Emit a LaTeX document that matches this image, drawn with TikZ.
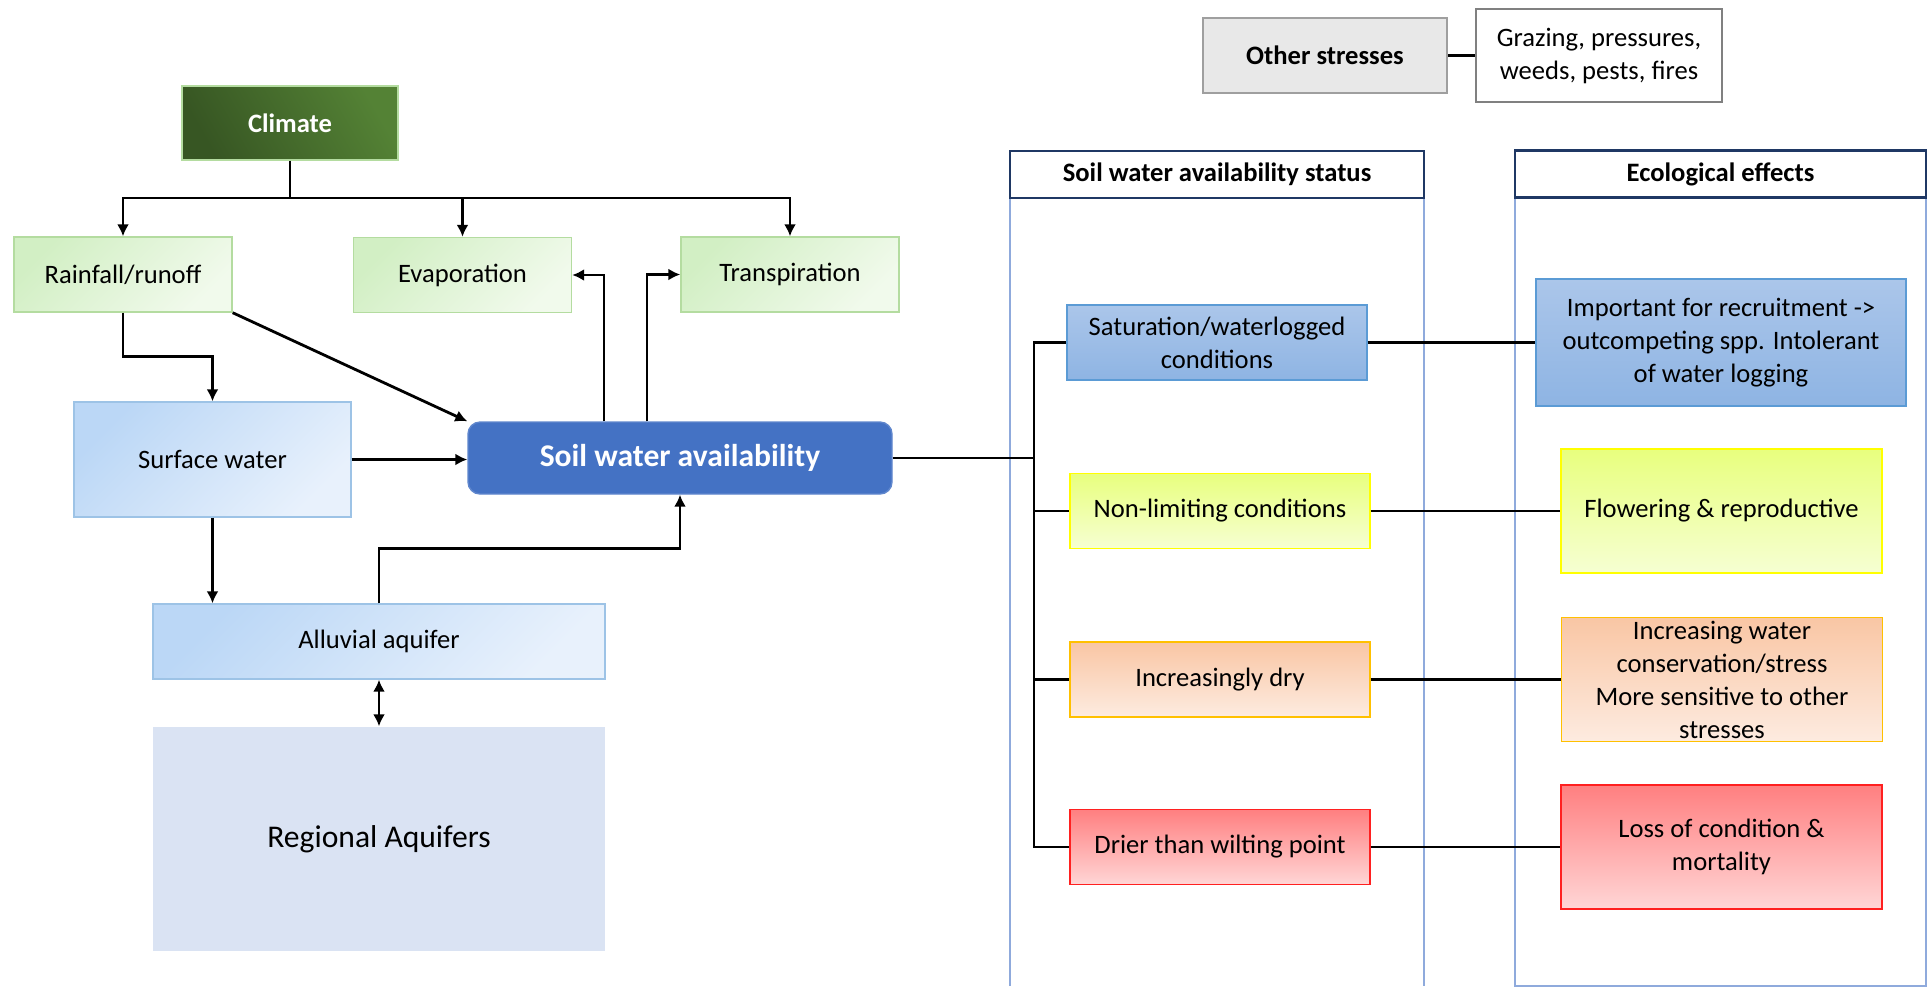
\documentclass[tikz,border=0pt]{standalone}
\usepackage{fontspec}
\setmainfont{Carlito}
\usepackage{xcolor}
\usepackage{tikz}
\usetikzlibrary{shapes,arrows.meta,positioning,fit,calc}

\definecolor{climdark}{HTML}{375623}
\definecolor{climlight}{HTML}{548235}
\definecolor{grnline}{HTML}{B4DCA0}
\definecolor{grntop}{HTML}{D2EFC4}
\definecolor{grnbot}{HTML}{F1FAEC}
\definecolor{bluline}{HTML}{9DC3E6}
\definecolor{blutop}{HTML}{BBD7F6}
\definecolor{blubot}{HTML}{E8F1FC}
\definecolor{soilblue}{HTML}{4472C4}
\definecolor{regfill}{HTML}{DAE3F3}
\definecolor{navy}{HTML}{1F3864}
\definecolor{colline}{HTML}{8FAADC}
\definecolor{wettop}{HTML}{ABC6EA}
\definecolor{wetbot}{HTML}{8EB4E3}
\definecolor{wetline}{HTML}{5B9BD5}
\definecolor{oktop}{HTML}{E8FF7E}
\definecolor{okbot}{HTML}{F6FFD2}
\definecolor{okline}{HTML}{FFFF00}
\definecolor{drytop}{HTML}{F9C6A4}
\definecolor{drybot}{HTML}{FDEBE0}
\definecolor{dryline}{HTML}{FFC000}
\definecolor{deadtop}{HTML}{FF7F80}
\definecolor{deadbot}{HTML}{FFD6D6}
\definecolor{deadline}{HTML}{FF2020}

\begin{document}
\begin{tikzpicture}[x=0.5pt, y=-0.5pt,
    box/.style={rectangle, draw, text centered, align=center, inner sep=1pt, line width=0.7pt,
        font=\fontsize{13.3}{16.5}\selectfont},
    climbox/.style={box, draw=grnline, left color=climdark, right color=climlight, shading angle=120,
        text=white, minimum width=108pt, minimum height=37pt},
    greenbox/.style={box, draw=grnline, top color=grntop, bottom color=grnbot, shading angle=45,
        minimum width=109pt, minimum height=37.5pt},
    bluebox/.style={box, draw=bluline, top color=blutop, bottom color=blubot, shading angle=45},
    soilbox/.style={box, draw=soilblue!85!white, fill=soilblue, rounded corners=6pt, text=white,
        font=\fontsize{15.8}{19}\selectfont\bfseries, minimum width=212pt, minimum height=36pt},
    hdr/.style={box, draw=navy, line width=1.4pt, fill=white, minimum height=23.5pt},
    statusbox/.style={box, minimum width=150pt, minimum height=37.5pt, shading angle=30},
    effectbox/.style={box, inner ysep=0pt, minimum width=160.5pt, minimum height=62pt, shading angle=30},
    arr/.style={-{Latex[length=6pt,width=6pt]}, line width=1.4pt},
    dbl/.style={{Latex[length=6pt,width=6pt]}-{Latex[length=6pt,width=6pt]}, line width=1.4pt},
    link/.style={line width=1.4pt}]
    \useasboundingbox (0,0) rectangle (1928,987);

    % water balance side
    \node[climbox] (climate) at (290,123) {\textbf{Climate}};
    \node[greenbox] (rain) at (123,274.5) {Rainfall/runoff};
    \node[greenbox] (evap) at (462.5,275) {Evaporation};
    \node[greenbox] (transp) at (790,274.5) {Transpiration};
    \node[bluebox, minimum width=138.5pt, minimum height=57.5pt] (surface) at (212.5,459.5) {Surface water};
    \node[soilbox] (soil) at (680,458) {Soil water availability};
    \node[bluebox, minimum width=226pt, minimum height=37.5pt] (alluvial) at (379,641.5) {Alluvial aquifer};
    \node[box, draw=none, fill=regfill, minimum width=226pt, minimum height=112pt,
        font=\fontsize{15.8}{19}\selectfont] (regional) at (379,839) {Regional Aquifers};

    \coordinate (split) at (290,198);
    \draw[link] (climate.south) -- (split);
    \draw[arr] (split) -| (rain.north);
    \draw[arr] (split) -| (evap.north);
    \draw[arr] (split) -| (transp.north);
    \draw[arr] (rain.south) -- ++(0,44) -| (surface.north);
    \draw[arr] (rain.south east) -- (soil.north west);
    \draw[arr] (surface.east) -- (surface.east -| soil.west);
    \draw[arr] ([xshift=-38pt]soil.north) |- (evap.east);
    \draw[arr] ([xshift=-16.5pt]soil.north) |- (transp.west);
    \draw[arr] (surface.south) -- (surface.south |- alluvial.north);
    \draw[arr] (alluvial.north) -- ++(0,-55) -| (soil.south);
    \draw[dbl] (alluvial.south) -- (regional.north);

    % other stresses
    \node[box, draw=gray!75, line width=1pt, fill=gray!18, minimum width=122pt, minimum height=37.5pt] (other) at (1325,55.5) {\textbf{Other stresses}};
    \node[box, draw=gray, line width=1pt, fill=white, minimum width=123pt, minimum height=46.5pt] (grazing) at (1599,55.5) {Grazing, pressures,\\weeds, pests, fires};
    \draw[link] (other.east) -- (grazing.west);

    % columns
    \draw[colline, line width=0.8pt] (1010,986) -- (1010,151) -- (1424,151) -- (1424,986);
    \draw[colline, line width=0.8pt] (1515,151) rectangle (1926,986);
    \node[hdr, minimum width=207pt] (hdrstatus) at (1217,174.5) {\textbf{Soil water availability status}};
    \node[hdr, minimum width=205.5pt] (hdreco) at (1720.5,174) {\textbf{Ecological effects}};

    \node[statusbox, draw=wetline, top color=wettop, bottom color=wetbot] (sat) at (1217,342.5) {Saturation/waterlogged\\conditions};
    \node[statusbox, draw=okline, top color=oktop, bottom color=okbot] (nonlim) at (1220,511) {Non-limiting conditions};
    \node[statusbox, draw=dryline, top color=drytop, bottom color=drybot] (dry) at (1220,679.5) {Increasingly dry};
    \node[statusbox, draw=deadline, top color=deadtop, bottom color=deadbot] (drier) at (1220,847) {Drier than wilting point};

    \node[effectbox, draw=wetline, top color=wettop, bottom color=wetbot, minimum width=185pt, minimum height=63.5pt] (important) at (1721,342.5) {Important for recruitment ->\\outcompeting spp. Intolerant\\of water logging};
    \node[effectbox, draw=okline, top color=oktop, bottom color=okbot] (flower) at (1721.5,511) {Flowering \& reproductive};
    \node[effectbox, draw=dryline, top color=drytop, bottom color=drybot] (incr) at (1722,679.5) {Increasing water\\conservation/stress\\More sensitive to other\\stresses};
    \node[effectbox, draw=deadline, top color=deadtop, bottom color=deadbot] (loss) at (1721.5,847) {Loss of condition \&\\mortality};

    \coordinate (bus) at (1034,458);
    \draw[link] (soil.east) -- (bus);
    \foreach \n in {sat,nonlim,dry,drier}
        \draw[link] (bus) |- (\n.west);
    \draw[link] (sat.east) -- (important.west);
    \draw[link] (nonlim.east) -- (flower.west);
    \draw[link] (dry.east) -- (incr.west);
    \draw[link] (drier.east) -- (loss.west);
\end{tikzpicture}
\end{document}
